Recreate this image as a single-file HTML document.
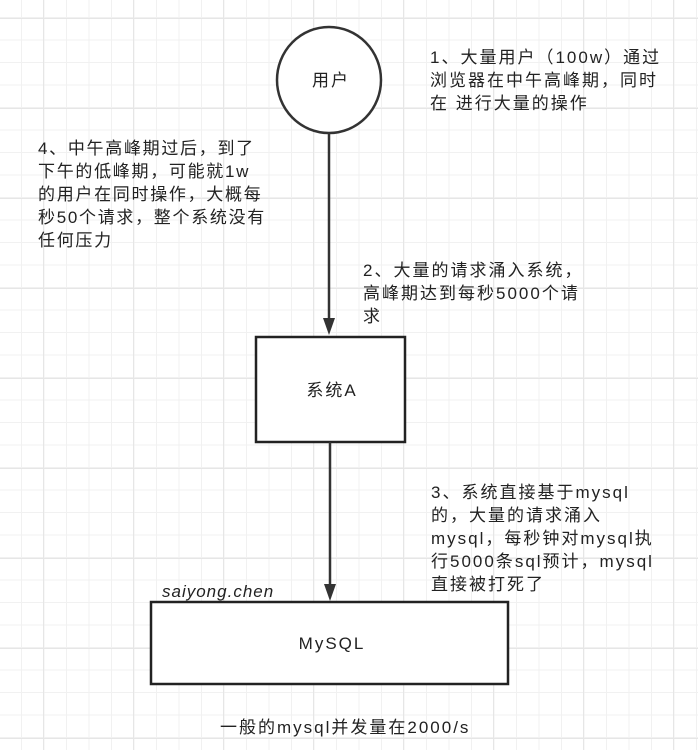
<!DOCTYPE html>
<html><head><meta charset="utf-8"><style>
html,body{margin:0;padding:0}
body{width:698px;height:750px;position:relative;overflow:hidden;background:#fff;
background-image:
linear-gradient(to right,#e6e6e6 1px,transparent 1px),
linear-gradient(to bottom,#e6e6e6 1px,transparent 1px),
linear-gradient(to right,#f1f1f1 1px,transparent 1px),
linear-gradient(to bottom,#f1f1f1 1px,transparent 1px);
background-size:90px 90px,90px 90px,22.5px 22.5px,22.5px 22.5px;
background-position:43px 0,0 18px,21px 0,0 17px;
font-family:"Liberation Sans","Noto Sans CJK SC",sans-serif;color:#222;font-size:17px;letter-spacing:2px}
.t{position:absolute;line-height:23px;white-space:nowrap}
.c{text-align:center;width:200px}
svg{position:absolute;left:0;top:0}
</style></head><body>
<svg width="698" height="750">
<ellipse cx="329" cy="80" rx="52" ry="53" fill="#fff" stroke="#333" stroke-width="2.5"/>
<line x1="329" y1="133" x2="329" y2="322" stroke="#333" stroke-width="2.5"/>
<polygon points="323,318 335,318 329,335" fill="#333"/>
<rect x="256" y="337" width="149" height="105" fill="#fff" stroke="#222" stroke-width="2.5"/>
<line x1="330" y1="442" x2="330" y2="588" stroke="#333" stroke-width="2.5"/>
<polygon points="324,584 336,584 330,601" fill="#333"/>
<rect x="151" y="602" width="357" height="82" fill="#fff" stroke="#222" stroke-width="2.5"/>
</svg>
<div class="t c" style="left:231px;top:69px">用户</div>
<div class="t" style="left:430px;top:46px">1、大量用户（100w）通过<br>浏览器在中午高峰期，同时<br>在 进行大量的操作</div>
<div class="t" style="left:38px;top:137px;letter-spacing:1.7px">4、中午高峰期过后，到了<br>下午的低峰期，可能就1w<br>的用户在同时操作，大概每<br>秒50个请求，整个系统没有<br>任何压力</div>
<div class="t" style="left:363px;top:259px">2、大量的请求涌入系统，<br>高峰期达到每秒5000个请<br>求</div>
<div class="t c" style="left:232px;top:379px">系统A</div>
<div class="t" style="left:431px;top:481px">3、系统直接基于mysql<br>的，大量的请求涌入<br>mysql，每秒钟对mysql执<br>行5000条sql预计，mysql<br>直接被打死了</div>
<div class="t" style="left:162px;top:580px;font-style:italic;letter-spacing:1px">saiyong.chen</div>
<div class="t c" style="left:232px;top:632px">MySQL</div>
<div class="t" style="left:220px;top:716px">一般的mysql并发量在2000/s</div>
</body></html>
